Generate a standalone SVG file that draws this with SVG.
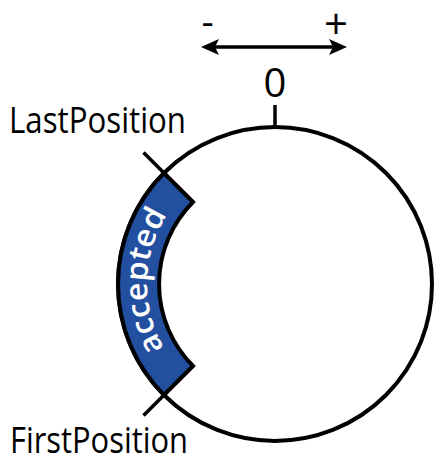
<svg xmlns="http://www.w3.org/2000/svg" width="435" height="460" viewBox="0 0 435 460">
  <style>
    .ln { stroke: #000; stroke-width: 3.5; fill: none; stroke-linecap: butt; }
    .lbl { font-family: "Open Sans", "Liberation Sans", sans-serif; font-size: 36px; fill: #000; }
    .band { fill: #224f9f; stroke: #000; stroke-width: 4; stroke-linejoin: miter; }
    .acc { font-family: "Open Sans", "Liberation Sans", sans-serif; font-size: 31px; font-weight: 600; fill: #fff; }
  </style>
  <defs>
    <marker id="arrow" viewBox="0 0 18 16" refX="4" refY="8" markerWidth="18" markerHeight="16" markerUnits="userSpaceOnUse" orient="auto-start-reverse">
      <path d="M0,0 L18,8 L0,16 L4,8 Z" fill="#000"/>
    </marker>
    <path id="accPath" d="M184.5,374.5 A128,128 0 0 1 184.5,193.5"/>
  </defs>

  <g id="direction">
    <line class="ln" x1="215" y1="47" x2="333" y2="47" marker-start="url(#arrow)" marker-end="url(#arrow)"/>
    <text class="lbl" x="207.5" y="35" text-anchor="middle" style="font-size:38px">-</text>
    <text class="lbl" x="336" y="39" text-anchor="middle" style="font-size:42px">+</text>
  </g>

  <g id="ring">
    <circle cx="275" cy="284" r="157" fill="#fff" stroke="#000" stroke-width="4"/>
  </g>

  <g id="zero">
    <line class="ln" x1="275" y1="105" x2="275" y2="128"/>
    <text class="lbl" x="275" y="97" text-anchor="middle" style="font-size:40px">0</text>
  </g>

  <g id="accepted">
    <path class="band" d="M164,173 A157,157 0 0 0 164,395 L193,366 A116,116 0 0 1 193,202 Z"/>
    <text class="acc"><textPath href="#accPath" startOffset="51.5%" text-anchor="middle" textLength="140" lengthAdjust="spacingAndGlyphs">accepted</textPath></text>
  </g>

  <g id="connectors">
    <line class="ln" x1="143.5" y1="152.5" x2="193" y2="202"/>
    <line class="ln" x1="143.5" y1="415.5" x2="193" y2="366"/>
  </g>

  <g id="last-position">
    <text class="lbl" x="9" y="133" textLength="177" lengthAdjust="spacingAndGlyphs">LastPosition</text>
  </g>
  <g id="first-position">
    <text class="lbl" x="10" y="453" textLength="178" lengthAdjust="spacingAndGlyphs">FirstPosition</text>
  </g>
</svg>
